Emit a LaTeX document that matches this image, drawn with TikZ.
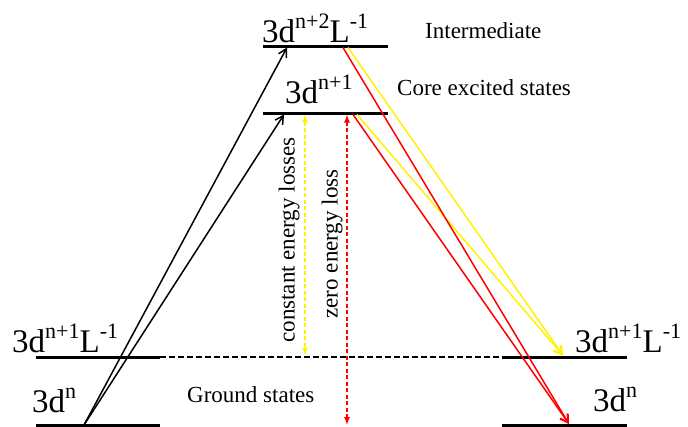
\documentclass[tikz,border=0pt]{standalone}
\usepackage{fontspec}
\setmainfont{Liberation Serif}
\usetikzlibrary{arrows.meta}
\newcommand{\hi}[1]{\raisebox{0.42em}{\fontsize{22}{22}\selectfont #1}}
\tikzset{
  lvl/.style={
    line width = 3pt
  },
  trans/.style={
    line width = 1.5pt,
    -{Straight Barb[length=8pt,width=9pt]}
  },
  loss/.style={
    line width = 1.3pt,
    dash pattern = on 4pt off 2.5pt,
    {Latex[length=8pt,width=6pt]}-{Latex[length=8pt,width=6pt]}
  },
  statelbl/.style={
    anchor = base west,
    inner sep = 0pt,
    font = \fontsize{33}{33}\selectfont
  },
  note/.style={
    inner sep = 0pt,
    font = \fontsize{23}{23}\selectfont
  }
}

\begin{document}
\begin{tikzpicture}[x=1pt,y=-1pt]
    \useasboundingbox (0,0) rectangle (688,426);
    \def\yint{46}
    \def\ycore{113}
    \def\ylig{357}
    \def\ygs{425}
    % energy levels
    \coordinate (intL) at (263,\yint);
    \coordinate (intR) at (388,\yint);
    \coordinate (coreL) at (263,\ycore);
    \coordinate (coreR) at (388,\ycore);
    \coordinate (ligL) at (36,\ylig);
    \coordinate (ligM) at (160,\ylig);
    \coordinate (ligN) at (502,\ylig);
    \coordinate (ligR) at (627,\ylig);
    \coordinate (gsL) at (36,\ygs);
    \coordinate (gsM) at (160,\ygs);
    \coordinate (gsN) at (502,\ygs);
    \coordinate (gsR) at (627,\ygs);
    \draw[lvl] (intL) -- (intR);
    \draw[lvl] (coreL) -- (coreR);
    \draw[lvl] (ligL) -- (ligM);
    \draw[lvl] (ligN) -- (ligR);
    \draw[lvl] (gsL) -- (gsM);
    \draw[lvl] (gsN) -- (gsR);
    \draw[line width=1.3pt, dash pattern=on 6pt off 3pt] (ligM) -- (ligN);
    % labels
    \node[statelbl] (lint) at (262,42) {3d\hi{n+2}L\hi{-1}};
    \node[statelbl] (lcore) at (285,103) {3d\hi{n+1}};
    \node[statelbl] (lligL) at (12,352) {3d\hi{n+1}L\hi{-1}};
    \node[statelbl] (lligR) at (575,352) {3d\hi{n+1}L\hi{-1}};
    \node[statelbl] (lgsL) at (32,412) {3d\hi{n}};
    \node[statelbl] (lgsR) at (593,411) {3d\hi{n}};
    \node[note, anchor=base west] (tint) at (425,38) {Intermediate};
    \node[note, anchor=base west] (tcore) at (397,95) {Core excited states};
    \node[note, anchor=base west] (tgs) at (187,402) {Ground states};
    \node[note, rotate=90] (tconst) at (289,240) {constant energy losses};
    \node[note, rotate=90] (tzero) at (332,244) {zero energy loss};
    % transitions
    \coordinate (abs) at (84,\ygs);
    \coordinate (absI) at (287,\yint+1.5);
    \coordinate (absC) at (284,\ycore+1.5);
    \draw[trans] (abs) -- (absI);
    \draw[trans] (abs) -- (absC);
    \coordinate (cY) at (305,\ycore+1.5);
    \coordinate (lY) at (305,\ylig-1.5);
    \coordinate (cR) at (347,\ycore+1.5);
    \coordinate (gR) at (347,\ygs);
    \draw[loss, yellow] (cY) -- (lY);
    \draw[loss, red] (cR) -- (gR);
    \coordinate (emIR) at (343,\yint+1.5);
    \coordinate (emIY) at (348,\yint+1.5);
    \coordinate (emCR) at (353,\ycore+1.5);
    \coordinate (emCY) at (357,\ycore+1.5);
    \coordinate (endY) at (563,\ylig-1.5);
    \coordinate (endR) at (569,\ygs-1);
    \draw[trans, yellow] (emIY) -- (endY);
    \draw[trans, yellow] (emCY) -- (endY);
    \draw[trans, red] (emIR) -- (endR);
    \draw[trans, red] (emCR) -- (endR);
\end{tikzpicture}
\end{document}
